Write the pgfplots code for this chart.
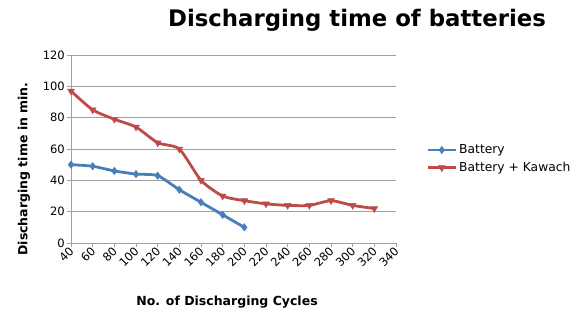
\documentclass[border=0pt]{standalone}
\usepackage{fontspec}
\setmainfont{DejaVu Sans}
\usepackage{pgfplots}
\pgfplotsset{compat=1.18}
\definecolor{bblue}{HTML}{4A7EBB}
\definecolor{bred}{HTML}{BE4B48}
\definecolor{gridc}{HTML}{A0A0A0}
\begin{document}
\begin{tikzpicture}[x=1pt,y=1pt]
\useasboundingbox (0,0) rectangle (580,324);
\begin{axis}[
  at={(71pt,81pt)}, anchor=south west,
  scale only axis, width=325pt, height=188pt,
  xmin=40, xmax=340, ymin=0, ymax=120,
  xtick={40,60,...,340}, ytick={0,20,...,120},
  axis lines*=left,
  axis line style={gridc, line width=0.8pt},
  tick style={gridc, line width=0.8pt},
  tick align=outside, major tick length=4pt,
  ymajorgrids, grid style={gridc, line width=0.8pt},
  /pgf/number format/assume math mode=true,
  ticklabel style={font=\fontsize{11.5}{13}\selectfont},
  yticklabel style={inner sep=2pt},
  xticklabel style={rotate=45, anchor=east, inner sep=1pt, yshift=-2pt},
  legend style={at={(1.093,0.447)}, anchor=west, draw=none, fill=none,
    font=\fontsize{12.3}{14}\selectfont, row sep=3pt, inner sep=0pt},
  legend cell align=left,
  legend image code/.code={\draw[mark repeat=2,mark phase=2] plot coordinates {(0pt,0pt) (14pt,0pt) (28pt,0pt)};},
  legend image post style={line width=2.8pt},
  clip=false,
]
\addplot[bblue, line width=2.8pt, smooth, tension=0.4, mark=diamond*, mark size=3.7pt, mark options={line width=0.5pt}]
coordinates {(40,50) (60,49) (80,46) (100,44) (120,43) (140,34) (160,26) (180,18) (200,10)};
\addlegendentry{Battery}
\addplot[bred, line width=2.8pt, smooth, tension=0.4, mark=triangle*, mark size=3.9pt, mark options={rotate=180, line width=0.5pt}]
coordinates {(40,97) (60,85) (80,79) (100,74) (120,64) (140,60) (160,40) (180,30) (200,27) (220,25) (240,24) (260,24) (280,27) (300,24) (320,22)};
\addlegendentry{Battery + Kawach}
\end{axis}
\node[font=\bfseries\fontsize{22.8}{26}\selectfont] at (357,304) {Discharging time of batteries};
\node[font=\bfseries\fontsize{12.5}{14}\selectfont, rotate=90] at (24,155) {Discharging time in min.};
\node[font=\bfseries\fontsize{12.5}{14}\selectfont] at (227,22) {No. of Discharging Cycles};
\end{tikzpicture}
\end{document}
